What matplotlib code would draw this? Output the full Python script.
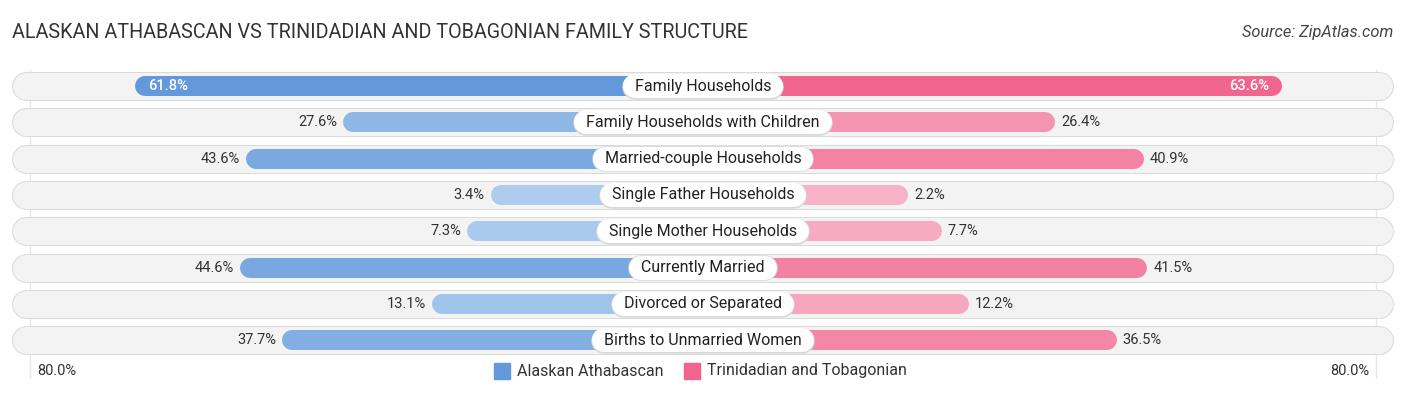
import matplotlib
matplotlib.use("Agg")
import matplotlib.pyplot as plt
import numpy as np
from matplotlib.colors import to_rgb

categories = ["Family Households", "Family Households with Children",
              "Married-couple Households", "Single Father Households",
              "Single Mother Households", "Currently Married",
              "Divorced or Separated", "Births to Unmarried Women"]
alaskan = [61.8, 27.6, 43.6, 3.4, 7.3, 44.6, 13.1, 37.7]
trinidadian = [63.6, 26.4, 40.9, 2.2, 7.7, 41.5, 12.2, 36.5]
series_names = ["Alaskan Athabascan", "Trinidadian and Tobagonian"]
axis_max_label = "80.0%"

W, H, DPI = 1406, 395, 100
PX = 6.085          # px per percent unit
CX = 703            # center px
OFF = 31.5          # offset (percent units) under the label
ROW0, ROWSTEP = 86, 36.3

fig = plt.figure(figsize=(W / DPI, H / DPI), dpi=DPI)
ax = fig.add_axes([0, 0, 1, 1])
ax.set_xlim(-CX / PX, (W - CX) / PX)
ax.set_ylim((H - ROW0) / ROWSTEP, -ROW0 / ROWSTEP)
ax.axis("off")

pt = 72 / DPI  # points per pixel


def mix(c1, c2, t):
    a, b = np.array(to_rgb(c1)), np.array(to_rgb(c2))
    return tuple(a + (b - a) * t)


blue_dark, blue_light = "#6399da", "#b2cfef"
pink_dark, pink_light = "#f0658e", "#f8b5ca"

font = "Roboto"

# faint vertical guide lines
for xp in (30, 1376):
    ax.plot([(xp - CX) / PX] * 2, [-0.45, (378 - ROW0) / ROWSTEP], color="#e6e6e6", lw=1, zorder=0)

bg_left, bg_right = (12 - CX) / PX, (1393 - CX) / PX
row_h = 29
bar_h = 20
r_bg = row_h / 2 / PX
r_bar = bar_h / 2 / PX

label_texts = []
for i, (cat, a, t) in enumerate(zip(categories, alaskan, trinidadian)):
    # row background pill (border + fill)
    ax.plot([bg_left + r_bg, bg_right - r_bg], [i, i], color="#dadada",
            lw=row_h * pt, solid_capstyle="round", zorder=1)
    ax.plot([bg_left + r_bg, bg_right - r_bg], [i, i], color="#f3f3f3",
            lw=(row_h - 2) * pt, solid_capstyle="round", zorder=1)
    # bars
    ca = mix(blue_light, blue_dark, min(a / 62.0, 1))
    ct = mix(pink_light, pink_dark, min(t / 64.0, 1))
    la = -(OFF + a)
    rt = OFF + t
    ax.plot([la + r_bar, -r_bar], [i, i], color=ca, lw=bar_h * pt,
            solid_capstyle="round", zorder=2)
    ax.plot([r_bar, rt - r_bar], [i, i], color=ct, lw=bar_h * pt,
            solid_capstyle="round", zorder=2)
    # value labels
    if a > 55:
        ax.text(la + 13 / PX, i, f"{a:.1f}%", ha="left", va="center",
                color="white", fontsize=10.5, family=font, fontweight="medium", zorder=4)
    else:
        ax.text(la - 6 / PX, i, f"{a:.1f}%", ha="right", va="center",
                color="#333333", fontsize=10.5, family=font, zorder=4)
    if t > 55:
        ax.text(rt - 13 / PX, i, f"{t:.1f}%", ha="right", va="center",
                color="white", fontsize=10.5, family=font, fontweight="medium", zorder=4)
    else:
        ax.text(rt + 6 / PX, i, f"{t:.1f}%", ha="left", va="center",
                color="#333333", fontsize=10.5, family=font, zorder=4)
    # category label
    txt = ax.text(0, i, cat, ha="center", va="center", fontsize=11.5, family=font,
                  color="#222222", zorder=6)
    label_texts.append(txt)

# label pills sized from text extents
fig.canvas.draw()
renderer = fig.canvas.get_renderer()
pill_h = 24
for i, txt in enumerate(label_texts):
    wpx = txt.get_window_extent(renderer).width + 2 * 12
    half = (wpx / 2 - pill_h / 2) / PX
    ax.plot([-half, half], [i + 0.02, i + 0.02], color="#d9d9d9", lw=(pill_h + 1.5) * pt,
            solid_capstyle="round", zorder=4)
    ax.plot([-half, half], [i, i], color="white", lw=pill_h * pt,
            solid_capstyle="round", zorder=5)

# title and source
fig.text(12 / W, 1 - 33 / H, "ALASKAN ATHABASCAN VS TRINIDADIAN AND TOBAGONIAN FAMILY STRUCTURE",
         ha="left", va="center", fontsize=14.2, family=font, color="#333333")
fig.text(1393 / W, 1 - 33 / H, "Source: ZipAtlas.com", ha="right", va="center",
         fontsize=11.8, family=font, style="italic", color="#444444")

# bottom axis labels
yb = (371 - ROW0) / ROWSTEP
ax.text((37 - CX) / PX, yb, axis_max_label, ha="left", va="center", fontsize=10.5,
        family=font, color="#333333")
ax.text((1369 - CX) / PX, yb, axis_max_label, ha="right", va="center", fontsize=10.5,
        family=font, color="#333333")

# legend
leg_items = [(494, blue_dark, series_names[0]), (684, pink_dark, series_names[1])]
for xp, col, name in leg_items:
    ax.add_patch(plt.Rectangle(((xp - CX) / PX, yb - 8 / ROWSTEP), 16 / PX, 16 / ROWSTEP,
                               color=col, zorder=3))
    ax.text((xp + 23 - CX) / PX, yb, name, ha="left", va="center", fontsize=11.5,
            family=font, color="#333333")

fig.savefig("out.png", dpi=DPI)
